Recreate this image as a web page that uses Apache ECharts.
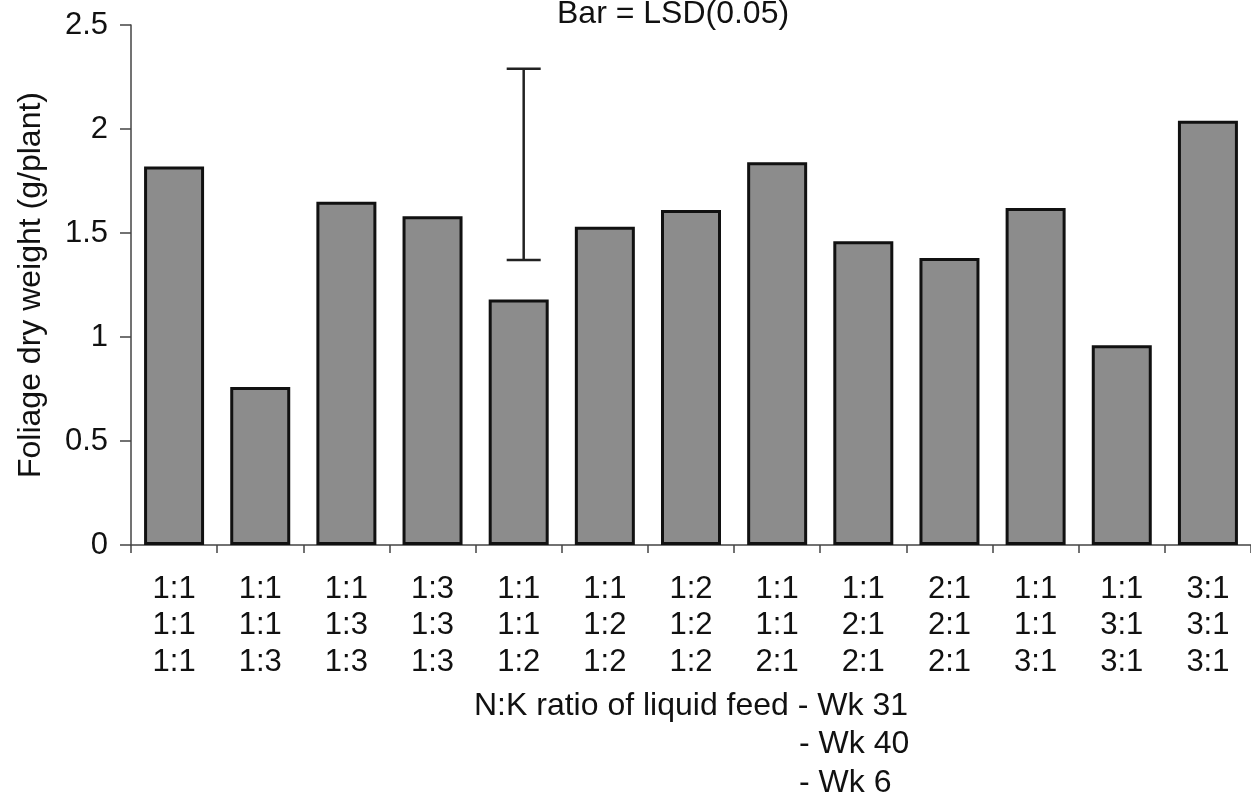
<!DOCTYPE html>
<html>
<head>
<meta charset="utf-8">
<script src="https://cdn.jsdelivr.net/npm/echarts@6/dist/echarts.min.js"></script>
<style>
html,body{margin:0;padding:0;background:#fff;}
#chart{width:1251px;height:796px;}
</style>
</head>
<body>
<div id="chart"></div>
<script>
// N:K ratios at each stage
const wk31 = ['1:1','1:1','1:1','1:3','1:1','1:1','1:2','1:1','1:1','2:1','1:1','1:1','3:1'];
const wk40 = ['1:1','1:1','1:3','1:3','1:1','1:2','1:2','1:1','2:1','2:1','1:1','3:1','3:1'];
const wk6  = ['1:1','1:3','1:3','1:3','1:2','1:2','1:2','2:1','2:1','2:1','3:1','3:1','3:1'];
// Foliage dry weight (g/plant)
const foliage = [1.82,0.76,1.65,1.58,1.18,1.53,1.61,1.84,1.46,1.38,1.62,0.96,2.04];
// LSD(0.05) bar: [category index, low, high]
const lsdBar = [[4, 1.37, 2.29]];
const yTicks = [0, 0.5, 1, 1.5, 2, 2.5];

const categories = wk31.map((v, i) => v + '\n' + wk40[i] + '\n' + wk6[i]);
const FONT = '"Liberation Sans", Arial, sans-serif';

const chart = echarts.init(document.getElementById('chart'), null, {renderer: 'canvas'});
chart.setOption({
  animation: false,
  backgroundColor: '#fff',
  grid: {left: 131, right: -4, top: 25, bottom: 251, containLabel: false},
  xAxis: {
    type: 'category',
    data: categories,
    boundaryGap: true,
    axisLine: {show: true, lineStyle: {color: '#444', width: 1.5}},
    axisTick: {show: true, length: 8, alignWithLabel: false, lineStyle: {color: '#444', width: 1.5}},
    axisLabel: {
      interval: 0, margin: 26, color: '#111', fontFamily: FONT, fontSize: 31, lineHeight: 36.5
    },
    splitLine: {show: false}
  },
  yAxis: {
    type: 'value',
    min: yTicks[0], max: yTicks[yTicks.length - 1], interval: 0.5,
    name: 'Foliage dry weight (g/plant)',
    nameLocation: 'middle',
    nameGap: 84,
    nameTextStyle: {color: '#111', fontFamily: FONT, fontSize: 32},
    axisLine: {show: true, lineStyle: {color: '#444', width: 1.5}},
    axisTick: {show: true, length: 11, lineStyle: {color: '#444', width: 1.5}},
    axisLabel: {
      margin: 23, color: '#111', fontFamily: FONT, fontSize: 31,
      formatter: v => String(v)
    },
    splitLine: {show: false}
  },
  series: [
    {
      type: 'bar',
      data: foliage,
      barWidth: 60,
      itemStyle: {color: '#8c8c8c', borderColor: '#111', borderWidth: 3}
    },
    {
      type: 'custom',
      data: lsdBar,
      encode: {x: 0, y: [1, 2]},
      z: 5,
      renderItem: function (params, api) {
        const top = api.coord([api.value(0), api.value(2)]);
        const bot = api.coord([api.value(0), api.value(1)]);
        const x = top[0] + 5;
        const half = 17;
        const style = {stroke: '#222', lineWidth: 2.5, fill: null};
        return {
          type: 'group',
          children: [
            {type: 'line', shape: {x1: x, y1: top[1], x2: x, y2: bot[1]}, style: style},
            {type: 'line', shape: {x1: x - half, y1: top[1], x2: x + half, y2: top[1]}, style: style},
            {type: 'line', shape: {x1: x - half, y1: bot[1], x2: x + half, y2: bot[1]}, style: style}
          ]
        };
      }
    }
  ],
  graphic: [
    {type: 'text', left: 557, top: -2, style: {text: 'Bar = LSD(0.05)', fontFamily: FONT, fontSize: 32, fill: '#111'}},
    {type: 'text', left: 474, top: 690, style: {text: 'N:K ratio of liquid feed - Wk 31', fontFamily: FONT, fontSize: 32, fill: '#111'}},
    {type: 'text', left: 799, top: 728, style: {text: '- Wk 40', fontFamily: FONT, fontSize: 32, fill: '#111'}},
    {type: 'text', left: 799, top: 767, style: {text: '- Wk 6', fontFamily: FONT, fontSize: 32, fill: '#111'}}
  ]
});
</script>
</body>
</html>
